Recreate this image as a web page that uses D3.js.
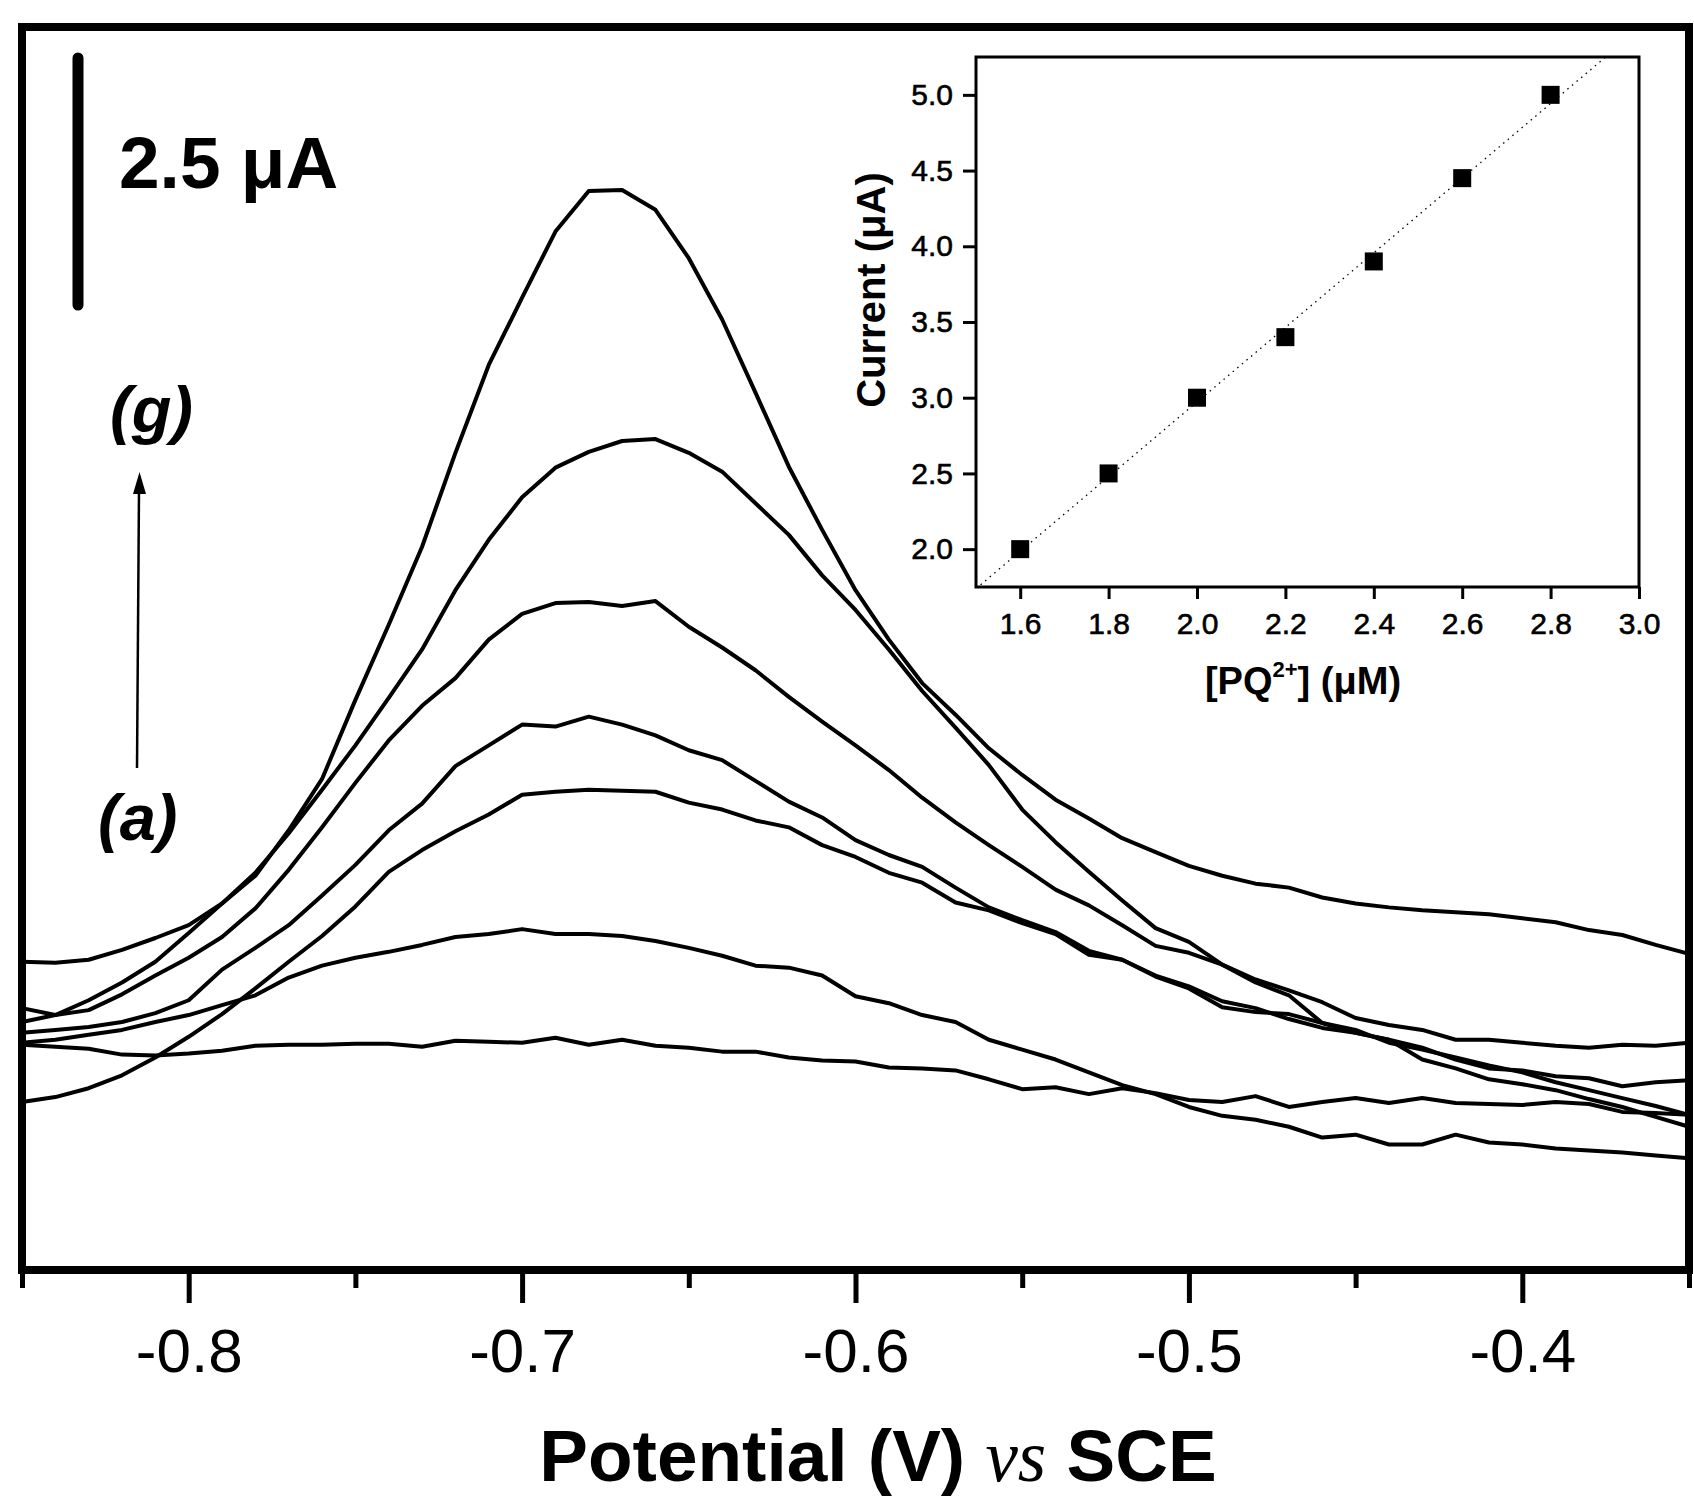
<!DOCTYPE html>
<html>
<head>
<meta charset="utf-8">
<title>DPV of PQ2+</title>
<script src="https://cdnjs.cloudflare.com/ajax/libs/d3/7.8.5/d3.min.js"></script>
<style>
    html, body { margin: 0; padding: 0; background: #fff; }
    svg { display: block; }
</style>
</head>
<body>
<div id="chart"></div>
<script>
// Differential pulse voltammograms (a)-(g) with calibration inset

// Potential grid (V vs SCE)
const potentials = [
    -0.85, -0.84, -0.83, -0.82, -0.81, -0.80, -0.79, -0.78, -0.77, -0.76,
    -0.75, -0.74, -0.73, -0.72, -0.71, -0.70, -0.69, -0.68, -0.67, -0.66,
    -0.65, -0.64, -0.63, -0.62, -0.61, -0.60, -0.59, -0.58, -0.57, -0.56,
    -0.55, -0.54, -0.53, -0.52, -0.51, -0.50, -0.49, -0.48, -0.47, -0.46,
    -0.45, -0.44, -0.43, -0.42, -0.41, -0.40, -0.39, -0.38, -0.37, -0.36,
    -0.35
];

// Currents (uA, arbitrary offset)
const curveA = [
    2.28, 2.26, 2.24, 2.18, 2.17, 2.19, 2.22, 2.27, 2.28, 2.28,
    2.29, 2.29, 2.26, 2.32, 2.31, 2.30, 2.35, 2.28, 2.33, 2.27,
    2.25, 2.21, 2.21, 2.15, 2.12, 2.11, 2.05, 2.04, 2.02, 1.93,
    1.83, 1.85, 1.78, 1.84, 1.79, 1.72, 1.70, 1.76, 1.65, 1.70,
    1.74, 1.69, 1.74, 1.69, 1.68, 1.67, 1.70, 1.68, 1.60, 1.59,
    1.57
];
const curveB = [
    2.30, 2.33, 2.38, 2.43, 2.51, 2.58, 2.68, 2.78, 2.96, 3.08,
    3.16, 3.22, 3.29, 3.37, 3.40, 3.45, 3.40, 3.40, 3.38, 3.33,
    3.26, 3.18, 3.08, 3.06, 2.98, 2.77, 2.70, 2.58, 2.51, 2.33,
    2.23, 2.13, 2.00, 1.87, 1.78, 1.65, 1.56, 1.52, 1.45, 1.34,
    1.37, 1.27, 1.27, 1.37, 1.29, 1.27, 1.23, 1.21, 1.19, 1.16,
    1.13
];
const curveC = [
    1.70, 1.75, 1.84, 1.97, 2.15, 2.36, 2.59, 2.85, 3.12, 3.38,
    3.68, 4.03, 4.25, 4.44, 4.61, 4.81, 4.84, 4.86, 4.85, 4.84,
    4.73, 4.66, 4.55, 4.48, 4.30, 4.18, 4.02, 3.92, 3.72, 3.64,
    3.51, 3.40, 3.19, 3.14, 2.97, 2.85, 2.66, 2.61, 2.59, 2.50,
    2.43, 2.30, 2.23, 2.15, 2.07, 2.00, 1.90, 1.82, 1.74, 1.66,
    1.57
];
const curveD = [
    2.40, 2.43, 2.46, 2.51, 2.60, 2.73, 3.04, 3.26, 3.49, 3.79,
    4.10, 4.45, 4.72, 5.10, 5.31, 5.52, 5.50, 5.60, 5.52, 5.41,
    5.26, 5.16, 4.95, 4.74, 4.58, 4.35, 4.20, 4.08, 3.87, 3.67,
    3.54, 3.42, 3.23, 3.14, 2.98, 2.87, 2.72, 2.65, 2.54, 2.45,
    2.40, 2.33, 2.13, 2.04, 1.93, 1.88, 1.82, 1.73, 1.65, 1.55,
    1.45
];
const curveE = [
    2.65, 2.58, 2.63, 2.79, 2.98, 3.16, 3.37, 3.66, 4.05, 4.48,
    4.93, 5.36, 5.71, 5.99, 6.38, 6.64, 6.75, 6.76, 6.72, 6.77,
    6.51, 6.30, 6.07, 5.80, 5.55, 5.31, 5.06, 4.78, 4.53, 4.30,
    4.08, 3.85, 3.69, 3.49, 3.28, 3.21, 3.09, 2.94, 2.83, 2.71,
    2.55, 2.48, 2.43, 2.33, 2.33, 2.30, 2.27, 2.25, 2.28, 2.27,
    2.30
];
const curveF = [
    2.51, 2.58, 2.73, 2.91, 3.12, 3.41, 3.71, 4.02, 4.42, 4.86,
    5.31, 5.79, 6.28, 6.88, 7.39, 7.82, 8.12, 8.28, 8.39, 8.41,
    8.27, 8.08, 7.76, 7.44, 7.03, 6.68, 6.28, 5.86, 5.49, 5.11,
    4.66, 4.33, 4.03, 3.74, 3.46, 3.32, 3.09, 2.91, 2.78, 2.50,
    2.40, 2.33, 2.25, 2.13, 2.04, 2.02, 1.96, 1.94, 1.86, 1.90,
    1.92
];
const curveG = [
    3.12, 3.11, 3.14, 3.24, 3.36, 3.49, 3.71, 3.99, 4.45, 4.97,
    5.77, 6.53, 7.32, 8.27, 9.16, 9.84, 10.51, 10.92, 10.93, 10.73,
    10.24, 9.62, 8.88, 8.13, 7.49, 6.88, 6.38, 5.94, 5.62, 5.28,
    5.01, 4.76, 4.57, 4.37, 4.23, 4.09, 3.99, 3.91, 3.87, 3.77,
    3.71, 3.67, 3.64, 3.62, 3.60, 3.56, 3.52, 3.44, 3.39, 3.29,
    3.20
];

const majorTicks = [-0.8, -0.7, -0.6, -0.5, -0.4];
const minorTicks = [-0.85, -0.75, -0.65, -0.55, -0.45, -0.35];
const scaleBarValue = 2.5;  // uA

// Inset: peak current vs concentration
const insetConc = [1.6, 1.8, 2.0, 2.2, 2.4, 2.6, 2.8];
const insetCurrent = [2.0, 2.5, 3.0, 3.4, 3.9, 4.45, 5.0];
const insetXTicks = [1.6, 1.8, 2.0, 2.2, 2.4, 2.6, 2.8, 3.0];
const insetYTicks = [2.0, 2.5, 3.0, 3.5, 4.0, 4.5, 5.0];

const SANS = 'Arial, "Liberation Sans", sans-serif';
const SERIF = '"Times New Roman", "Liberation Serif", serif';

const W = 1694, H = 1497;
const frame = { left: 22, top: 27, right: 1689, bottom: 1270 };
const inset = { left: 976, top: 57, right: 1639, bottom: 587 };

const svg = d3.select('#chart')
    .append('svg')
    .attr('width', W)
    .attr('height', H)
    .attr('font-family', SANS);

svg.append('rect').attr('width', W).attr('height', H).attr('fill', '#fff');

// Main scales
const x = d3.scaleLinear().domain([-0.85, -0.35]).range([frame.left, frame.right]);
const y = d3.scaleLinear().domain([0, 12.58]).range([frame.bottom, frame.top]);

// Curves
const line = d3.line()
    .x((d, i) => x(potentials[i]))
    .y(d => y(d));

svg.append('g')
    .selectAll('path.curve')
    .data([curveA, curveB, curveC, curveD, curveE, curveF, curveG])
    .enter()
    .append('path')
    .attr('class', 'curve')
    .attr('d', line)
    .attr('fill', 'none')
    .attr('stroke', '#000')
    .attr('stroke-width', 4)
    .attr('stroke-linejoin', 'round');

// Frame
svg.append('rect')
    .attr('x', frame.left)
    .attr('y', frame.top)
    .attr('width', frame.right - frame.left)
    .attr('height', frame.bottom - frame.top)
    .attr('fill', 'none')
    .attr('stroke', '#000')
    .attr('stroke-width', 8);

// Bottom axis: major ticks with labels, then minor ticks
const gx = svg.append('g')
    .attr('transform', `translate(0,${frame.bottom})`)
    .call(d3.axisBottom(x).tickValues(majorTicks).tickSize(33).tickFormat(d => d.toFixed(1)));
gx.select('.domain').remove();
gx.selectAll('.tick line').attr('stroke', '#000').attr('stroke-width', 5);
gx.selectAll('.tick text')
    .attr('y', 102)
    .attr('dy', 0)
    .attr('fill', '#000')
    .attr('font-size', 62)
    .attr('font-family', SANS);

const gxMinor = svg.append('g')
    .attr('transform', `translate(0,${frame.bottom})`)
    .call(d3.axisBottom(x).tickValues(minorTicks).tickSize(18).tickFormat(''));
gxMinor.select('.domain').remove();
gxMinor.selectAll('.tick line').attr('stroke', '#000').attr('stroke-width', 5);

// Axis title
const title = svg.append('text')
    .attr('x', 878)
    .attr('y', 1481)
    .attr('text-anchor', 'middle')
    .attr('font-size', 73)
    .attr('font-weight', 'bold');
title.append('tspan').text('Potential (V) ');
title.append('tspan')
    .attr('font-family', SERIF)
    .attr('font-style', 'italic')
    .attr('font-weight', 'normal')
    .text('vs');
title.append('tspan').text(' SCE');

// Scale bar (2.5 uA)
const barBottom = 305;
const barLen = y(0) - y(scaleBarValue);
svg.append('line')
    .attr('x1', 78).attr('x2', 78)
    .attr('y1', barBottom).attr('y2', barBottom - barLen)
    .attr('stroke', '#000')
    .attr('stroke-width', 11)
    .attr('stroke-linecap', 'round');

svg.append('text')
    .attr('x', 119)
    .attr('y', 188)
    .attr('font-size', 73)
    .attr('font-weight', 'bold')
    .text(`${scaleBarValue} μA`);

// Series labels and arrow
svg.append('text')
    .attr('x', 110)
    .attr('y', 432)
    .attr('font-size', 65)
    .attr('font-weight', 'bold')
    .attr('font-style', 'italic')
    .text('(g)');

svg.append('text')
    .attr('x', 98)
    .attr('y', 840)
    .attr('font-size', 65)
    .attr('font-weight', 'bold')
    .attr('font-style', 'italic')
    .text('(a)');

svg.append('line')
    .attr('x1', 137).attr('y1', 768)
    .attr('x2', 139).attr('y2', 490)
    .attr('stroke', '#000')
    .attr('stroke-width', 2.5);

svg.append('path')
    .attr('d', 'M139.5,472 L146,494 L133,494 Z')
    .attr('fill', '#000');

// ---- Inset ----
const ix = d3.scaleLinear().domain([1.5, 3.0]).range([inset.left, inset.right]);
const iy = d3.scaleLinear().domain([1.75, 5.25]).range([inset.bottom, inset.top]);

const ginset = svg.append('g');

ginset.append('rect')
    .attr('x', inset.left)
    .attr('y', inset.top)
    .attr('width', inset.right - inset.left)
    .attr('height', inset.bottom - inset.top)
    .attr('fill', '#fff');

ginset.append('clipPath')
    .attr('id', 'inset-clip')
    .append('rect')
    .attr('x', inset.left)
    .attr('y', inset.top)
    .attr('width', inset.right - inset.left)
    .attr('height', inset.bottom - inset.top);

// Least-squares fit line (dotted)
const mx = d3.mean(insetConc);
const my = d3.mean(insetCurrent);
const slope = d3.sum(insetConc, (c, i) => (c - mx) * (insetCurrent[i] - my)) /
    d3.sum(insetConc, c => (c - mx) * (c - mx));
const intercept = my - slope * mx;
const fitX = ix.domain();

ginset.append('line')
    .attr('clip-path', 'url(#inset-clip)')
    .attr('x1', ix(fitX[0])).attr('y1', iy(slope * fitX[0] + intercept))
    .attr('x2', ix(fitX[1])).attr('y2', iy(slope * fitX[1] + intercept))
    .attr('stroke', '#000')
    .attr('stroke-width', 1.3)
    .attr('stroke-dasharray', '1.5,4.5');

// Square markers
ginset.selectAll('rect.pt')
    .data(insetConc)
    .enter()
    .append('rect')
    .attr('class', 'pt')
    .attr('x', d => ix(d) - 9)
    .attr('y', (d, i) => iy(insetCurrent[i]) - 9)
    .attr('width', 18)
    .attr('height', 18)
    .attr('fill', '#000');

// Inset frame
ginset.append('rect')
    .attr('x', inset.left)
    .attr('y', inset.top)
    .attr('width', inset.right - inset.left)
    .attr('height', inset.bottom - inset.top)
    .attr('fill', 'none')
    .attr('stroke', '#000')
    .attr('stroke-width', 3);

// Inset axes
const igx = ginset.append('g')
    .attr('transform', `translate(0,${inset.bottom})`)
    .call(d3.axisBottom(ix).tickValues(insetXTicks).tickSize(12).tickFormat(d => d.toFixed(1)));
igx.select('.domain').remove();
igx.selectAll('.tick line').attr('stroke', '#000').attr('stroke-width', 3);
igx.selectAll('.tick text')
    .attr('y', 47)
    .attr('dy', 0)
    .attr('fill', '#000')
    .attr('stroke', '#000')
    .attr('stroke-width', 0.6)
    .attr('font-size', 30)
    .attr('font-family', SANS);

const igy = ginset.append('g')
    .attr('transform', `translate(${inset.left},0)`)
    .call(d3.axisLeft(iy).tickValues(insetYTicks).tickSize(13).tickPadding(10).tickFormat(d => d.toFixed(1)));
igy.select('.domain').remove();
igy.selectAll('.tick line').attr('stroke', '#000').attr('stroke-width', 3);
igy.selectAll('.tick text')
    .attr('fill', '#000')
    .attr('stroke', '#000')
    .attr('stroke-width', 0.6)
    .attr('font-size', 30)
    .attr('font-family', SANS);

// Inset titles
ginset.append('text')
    .attr('transform', 'translate(885,290) rotate(-90)')
    .attr('text-anchor', 'middle')
    .attr('font-size', 40)
    .attr('font-weight', 'bold')
    .text('Current (μA)');

const ixTitle = ginset.append('text')
    .attr('x', 1303)
    .attr('y', 694)
    .attr('text-anchor', 'middle')
    .attr('font-size', 38)
    .attr('font-weight', 'bold');
ixTitle.append('tspan').text('[PQ');
ixTitle.append('tspan').attr('font-size', 22).attr('dy', -17).text('2+');
ixTitle.append('tspan').attr('dy', 17).text('] (μM)');
</script>
</body>
</html>
